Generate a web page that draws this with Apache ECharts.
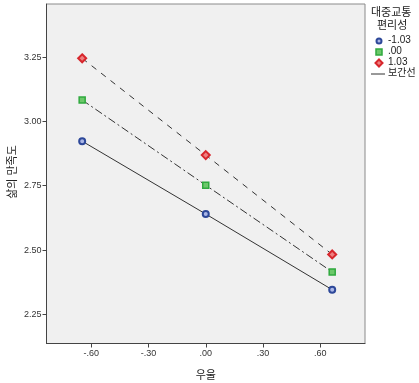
<!DOCTYPE html>
<html><head><meta charset="utf-8">
<script src="https://cdn.jsdelivr.net/npm/echarts@6/dist/echarts.min.js"></script>
<style>html,body{margin:0;padding:0;background:#fff}#c{width:419px;height:383px}</style>
</head><body><div id="c"></div>
<script>
const xValues = [-0.648, 0.0, 0.663];
const seriesNames = ['-1.03', '.00', '1.03'];
const lowValues = [2.923, 2.640, 2.346];
const midValues = [3.083, 2.752, 2.415];
const highValues = [3.245, 2.869, 2.483];
const xTicks = [-0.6, -0.3, 0, 0.3, 0.6];
const yTicks = [2.25, 2.5, 2.75, 3.0, 3.25];
const legendTitle = ['대중교통', '편리성'];
const fitLabel = '보간선';
const yTitle = '삶의 만족도';
const xTitle = '우울';

const font = 'Arial, "Liberation Sans", "Noto Sans CJK KR", sans-serif';
const chart = echarts.init(document.getElementById('c'));
function fmtX(v){ if (Math.abs(v) < 1e-9) return '.00'; const s = Math.abs(v).toFixed(2).replace(/^0/, ''); return (v < 0 ? '-' : '') + s; }
function pairs(ys){ return xValues.map((x,i)=>[x, ys[i]]); }
const styles = [
  {symbol:'circle', size:6, fill:'#aab6e6', border:'#2d4899', bw:2, lineType:'solid'},
  {symbol:'rect', size:6, fill:'#6cc86a', border:'#2fa93e', bw:1.5, lineType:[8,3,2,3]},
  {symbol:'diamond', size:8, fill:'#ee8080', border:'#d7262c', bw:2, lineType:[6,6]}
];
const data = [lowValues, midValues, highValues];
const series = data.map((d,i)=>({
  name: seriesNames[i], type:'line', data: pairs(d),
  symbol: styles[i].symbol, symbolSize: styles[i].size, showSymbol:true,
  lineStyle:{color:'#333', width:1, type: styles[i].lineType},
  itemStyle:{color: styles[i].fill, borderColor: styles[i].border, borderWidth: styles[i].bw},
  z: 3 + i, animation:false, silent:true
}));
const lx = 376, ly = 41, dy = 11;
const legendGraphics = [
  {type:'text', x: 13, y: 172, rotation: Math.PI/2, style:{text: yTitle, font:'11px '+font, fill:'#222', align:'center', verticalAlign:'middle'}},
  {type:'text', left: 371, top: 7, style:{text: legendTitle[0], font:'11px '+font, fill:'#222'}},
  {type:'text', left: 377, top: 20, style:{text: legendTitle[1], font:'11px '+font, fill:'#222'}},
  {type:'circle', shape:{cx:lx+3, cy:ly, r:2.5}, style:{fill:'#aab6e6', stroke:'#2d4899', lineWidth:2}},
  {type:'rect', shape:{x:lx, y:ly+dy-3, width:6, height:6}, style:{fill:'#6cc86a', stroke:'#2fa93e', lineWidth:1.5}},
  {type:'polygon', shape:{points:[[lx+3,ly+2*dy-3.5],[lx+6.5,ly+2*dy],[lx+3,ly+2*dy+3.5],[lx-0.5,ly+2*dy]]}, style:{fill:'#ee8080', stroke:'#d7262c', lineWidth:2}},
  {type:'line', shape:{x1:lx-5, y1:ly+3*dy, x2:lx+9, y2:ly+3*dy}, style:{stroke:'#333', lineWidth:1}},
  {type:'text', left: lx+12, top: ly-6, style:{text: seriesNames[0], font:'10px '+font, fill:'#222'}},
  {type:'text', left: lx+12, top: ly+dy-6, style:{text: seriesNames[1], font:'10px '+font, fill:'#222'}},
  {type:'text', left: lx+12, top: ly+2*dy-6, style:{text: seriesNames[2], font:'10px '+font, fill:'#222'}},
  {type:'text', left: lx+12, top: ly+3*dy-6, style:{text: fitLabel, font:'10px '+font, fill:'#222'}}
];
chart.setOption({
  animation:false,
  backgroundColor:'#fff',
  grid:{left:46.5, right:54, top:4, bottom:39.5, outerBoundsMode:'none', containLabel:false, show:true, backgroundColor:'#f0f0f0', borderColor:'#8a8a8a', borderWidth:1},
  xAxis:{type:'value', min:-0.835, max:0.835,
    name: xTitle, nameLocation:'middle', nameGap:27,
    nameTextStyle:{fontSize:11, color:'#222', fontFamily:font},
    axisLine:{show:true, onZero:false, lineStyle:{color:'#444', width:1}},
    axisTick:{show:true, length:4, lineStyle:{color:'#444'}, customValues: xTicks},
    axisLabel:{fontSize:9, color:'#333', fontFamily:font, margin:6, formatter: fmtX, customValues: xTicks},
    splitLine:{show:false}},
  yAxis:{type:'value', min:2.137, max:3.456,
    axisLine:{show:true, onZero:false, lineStyle:{color:'#444', width:1}},
    axisTick:{show:true, length:4, lineStyle:{color:'#444'}, customValues: yTicks},
    axisLabel:{fontSize:9, color:'#333', fontFamily:font, margin:5, formatter: v=>v.toFixed(2), customValues: yTicks},
    splitLine:{show:false}},
  series: series,
  graphic: legendGraphics
});
</script></body></html>
